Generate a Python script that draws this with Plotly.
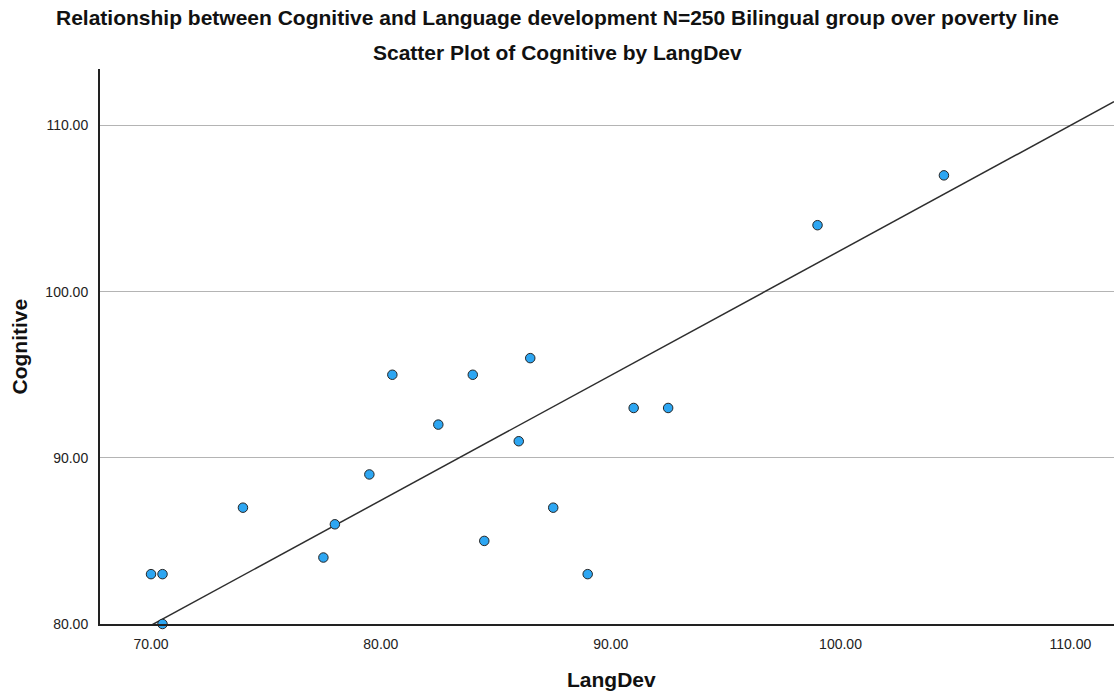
import plotly.graph_objects as go

lang_dev = [70.0, 70.5, 70.5, 74.0, 77.5, 78.0, 79.5, 80.5, 82.5, 84.0,
            84.5, 86.0, 86.5, 87.5, 89.0, 91.0, 92.5, 99.0, 104.5]
cognitive = [83, 83, 80, 87, 84, 86, 89, 95, 92, 95,
             85, 91, 96, 87, 83, 93, 93, 104, 107]

# fit line as shown in the chart
fit_slope = 0.752
fit_intercept = 27.28

x_ticks = [70, 80, 90, 100, 110]
y_ticks = [80, 90, 100, 110]
x_range = [67.78, 111.9]
y_range = [80, 113.4]

title1 = "Relationship between Cognitive and Language development N=250 Bilingual group over poverty line"
title2 = "Scatter Plot of Cognitive by LangDev"
x_title = "LangDev"
y_title = "Cognitive"

fit_x = [x_range[0], x_range[1]]
fit_y = [fit_intercept + fit_slope * v for v in fit_x]

FONT = "Liberation Sans, Arial, sans-serif"

fig = go.Figure()
fig.add_trace(go.Scatter(
    x=fit_x, y=fit_y, mode="lines",
    line=dict(color="#2e2e2e", width=1.5),
    hoverinfo="skip", showlegend=False,
))
fig.add_trace(go.Scatter(
    x=lang_dev, y=cognitive, mode="markers",
    marker=dict(size=9.5, color="#2DA6F2", line=dict(color="#262626", width=1)),
    showlegend=False, cliponaxis=False,
))

fig.update_layout(
    width=1114, height=692,
    margin=dict(l=100, r=0, t=69, b=68),
    paper_bgcolor="white", plot_bgcolor="white",
    font=dict(family=FONT, color="#222222"),
    xaxis=dict(
        range=x_range, tickvals=x_ticks,
        ticktext=[f"{v:.2f}" for v in x_ticks],
        showgrid=False, zeroline=False,
        showline=True, linecolor="#222222", linewidth=2,
        ticks="", ticklabelstandoff=6,
        tickfont=dict(size=14, color="#222222", family=FONT),
    ),
    yaxis=dict(
        range=y_range, tickvals=y_ticks,
        ticktext=[f"{v:.2f}" for v in y_ticks],
        showgrid=True, gridcolor="#b4b4b4", gridwidth=1,
        zeroline=False,
        showline=True, linecolor="#222222", linewidth=2,
        ticks="", ticklabelstandoff=7,
        tickfont=dict(size=14, color="#222222", family=FONT),
    ),
    annotations=[
        dict(text="<b>" + title1 + "</b>", xref="paper", yref="paper",
             x=0.4507, y=(624 - 17.5) / 555, xanchor="center", yanchor="middle",
             showarrow=False, font=dict(size=21, color="#111111", family=FONT)),
        dict(text="<b>" + title2 + "</b>", xref="paper", yref="paper",
             x=0.4507, y=(624 - 52) / 555, xanchor="center", yanchor="middle",
             showarrow=False, font=dict(size=21, color="#111111", family=FONT)),
        dict(text="<b>" + x_title + "</b>", xref="paper", yref="paper",
             x=(611 - 100) / 1014, y=(624 - 679) / 555,
             xanchor="center", yanchor="middle",
             showarrow=False, font=dict(size=21, color="#111111", family=FONT)),
        dict(text="<b>" + y_title + "</b>", xref="paper", yref="paper",
             x=(18.5 - 100) / 1014, y=(624 - 347) / 555, textangle=-90,
             xanchor="center", yanchor="middle",
             showarrow=False, font=dict(size=21, color="#111111", family=FONT)),
    ],
)

fig.write_html("out.html")
